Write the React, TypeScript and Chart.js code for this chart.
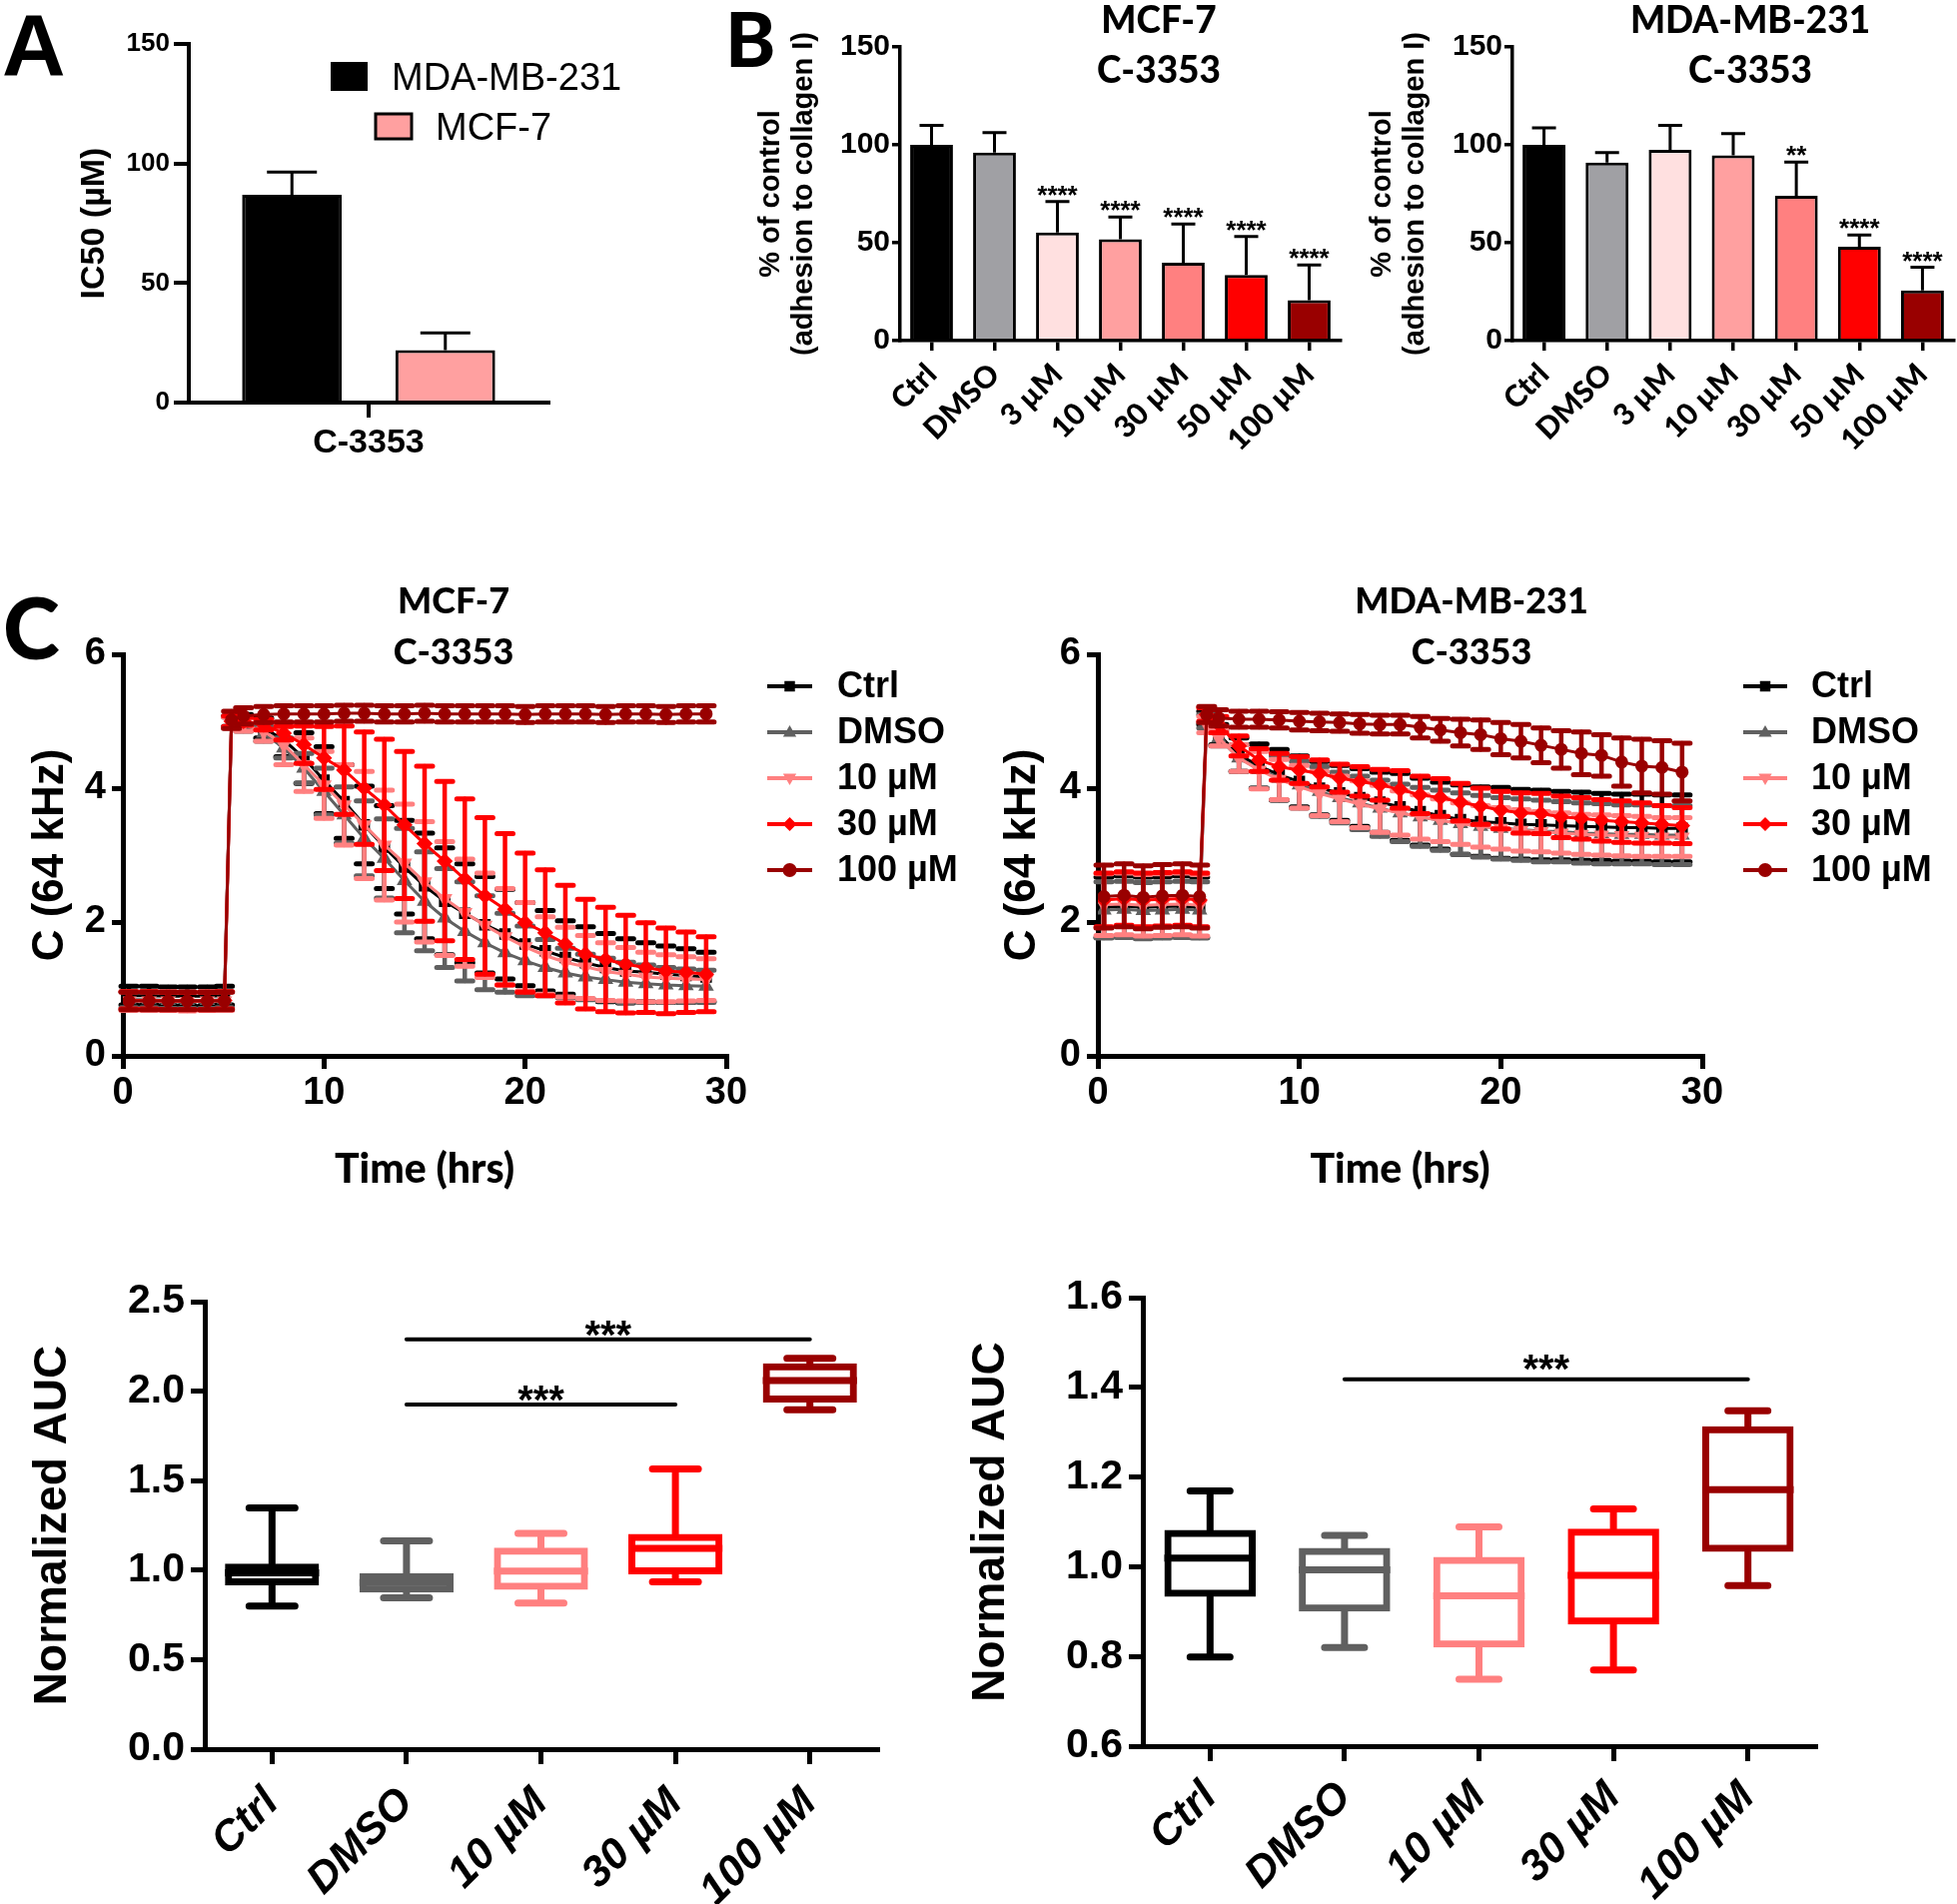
import React, { useEffect, useRef } from "react";
import { Chart, registerables } from "chart.js";

Chart.register(...registerables);

const ARIAL = '"Liberation Sans", Arial, Helvetica, sans-serif';
const CAL = 'Lato, "Open Sans", "Noto Sans", sans-serif';

// ---------------- Panel A ----------------
const aCategories = ["C-3353"];
const aSeriesNames = ["MDA-MB-231", "MCF-7"];
const aMeans = [86.9, 21.9];
const aSDs = [9.5, 7.2];
const aColors = ["#000000", "#FFA0A0"];

// ---------------- Panel B ----------------
const bCategories = ["Ctrl", "DMSO", "3 µM", "10 µM", "30 µM", "50 µM", "100 µM"];
const bColors = ["#000000", "#A0A0A4", "#FFE0E0", "#FFA0A0", "#FF8080", "#FF0000", "#990000"];
const bMcfMeans = [100, 96, 55.2, 51.8, 39.8, 33.5, 20.6];
const bMcfSDs = [10, 10.2, 15.8, 11.4, 19.8, 19.7, 18.1];
const bMcfSig = ["", "", "****", "****", "****", "****", "****"];
const bMdaMeans = [100, 90.9, 97.5, 94.6, 74, 48, 25.7];
const bMdaSDs = [8.7, 5.1, 12.5, 11.2, 17.2, 5.9, 11.8];
const bMdaSig = ["", "", "", "", "**", "****", "****"];

// ---------------- Panel C (impedance time course) ----------------
const cTimes = [0.3, 1.3, 2.25, 3.2, 4.2, 5.05, 5.4, 6, 7, 8, 9, 10, 11, 12, 13, 14, 15, 16, 17, 18, 19, 20, 21, 22, 23, 24, 25, 26, 27, 28, 29];
const cSeriesNames = ["Ctrl", "DMSO", "10 µM", "30 µM", "100 µM"];
const cColors = ["#000000", "#606060", "#FF8080", "#FF0000", "#990000"];
const cMarkers = ["rect", "triangle", "triangle", "rectRot", "circle"];
const cMarkerRotation = [0, 0, 180, 0, 0];

const mcfCtrl = [0.90, 0.90, 0.89, 0.89, 0.89, 0.90, 5.00, 5.00, 4.90, 4.72, 4.45, 4.12, 3.80, 3.45, 3.12, 2.82, 2.54, 2.31, 2.13, 1.96, 1.82, 1.67, 1.57, 1.47, 1.39, 1.32, 1.27, 1.25, 1.22, 1.20, 1.18];
const mcfCtrlSD = [0.14, 0.14, 0.14, 0.14, 0.14, 0.14, 0.08, 0.10, 0.15, 0.25, 0.38, 0.50, 0.55, 0.58, 0.62, 0.70, 0.79, 0.80, 0.74, 0.72, 0.67, 0.62, 0.60, 0.55, 0.54, 0.51, 0.48, 0.44, 0.42, 0.40, 0.37];
const mcfDmso = [0.84, 0.84, 0.83, 0.83, 0.83, 0.84, 4.98, 4.95, 4.82, 4.60, 4.30, 3.95, 3.60, 3.25, 2.95, 2.62, 2.31, 2.06, 1.86, 1.69, 1.54, 1.42, 1.32, 1.24, 1.18, 1.14, 1.10, 1.08, 1.06, 1.05, 1.04];
const mcfDmsoSD = [0.12, 0.12, 0.12, 0.12, 0.12, 0.12, 0.08, 0.10, 0.12, 0.15, 0.22, 0.35, 0.42, 0.56, 0.59, 0.78, 0.74, 0.74, 0.74, 0.70, 0.59, 0.52, 0.42, 0.37, 0.34, 0.32, 0.30, 0.28, 0.26, 0.25, 0.24];
const mcf10 = [0.82, 0.82, 0.82, 0.81, 0.82, 0.82, 4.98, 4.95, 4.85, 4.65, 4.35, 4.05, 3.75, 3.45, 3.15, 2.88, 2.60, 2.35, 2.14, 1.95, 1.78, 1.63, 1.50, 1.40, 1.33, 1.26, 1.22, 1.18, 1.16, 1.15, 1.14];
const mcf10SD = [0.14, 0.14, 0.14, 0.14, 0.14, 0.14, 0.08, 0.10, 0.15, 0.30, 0.40, 0.50, 0.60, 0.80, 0.82, 0.88, 0.90, 0.85, 0.80, 0.78, 0.72, 0.66, 0.58, 0.52, 0.47, 0.43, 0.40, 0.37, 0.35, 0.33, 0.31];
const mcf30 = [0.83, 0.83, 0.82, 0.82, 0.82, 0.83, 5.00, 5.00, 4.95, 4.82, 4.65, 4.45, 4.27, 4.00, 3.75, 3.45, 3.17, 2.91, 2.64, 2.39, 2.19, 1.99, 1.84, 1.67, 1.52, 1.44, 1.37, 1.32, 1.27, 1.25, 1.22];
const mcf30SD = [0.13, 0.13, 0.13, 0.13, 0.13, 0.13, 0.08, 0.06, 0.08, 0.10, 0.28, 0.47, 0.66, 0.84, 0.98, 1.10, 1.16, 1.19, 1.20, 1.17, 1.13, 1.04, 0.94, 0.88, 0.82, 0.78, 0.73, 0.67, 0.64, 0.60, 0.56];
const mcf100 = [0.82, 0.82, 0.82, 0.82, 0.82, 0.82, 5.02, 5.08, 5.10, 5.11, 5.11, 5.11, 5.12, 5.12, 5.11, 5.11, 5.12, 5.11, 5.11, 5.11, 5.11, 5.10, 5.11, 5.11, 5.11, 5.10, 5.11, 5.11, 5.10, 5.11, 5.11];
const mcf100SD = [0.13, 0.13, 0.13, 0.13, 0.13, 0.13, 0.13, 0.12, 0.12, 0.12, 0.12, 0.12, 0.12, 0.12, 0.12, 0.12, 0.12, 0.12, 0.12, 0.12, 0.12, 0.12, 0.12, 0.12, 0.12, 0.12, 0.12, 0.12, 0.12, 0.12, 0.12];

const mdaCtrl = [2.22, 2.24, 2.22, 2.23, 2.24, 2.22, 5.05, 4.80, 4.50, 4.33, 4.20, 4.10, 4.00, 3.93, 3.86, 3.79, 3.72, 3.65, 3.59, 3.53, 3.50, 3.48, 3.46, 3.45, 3.44, 3.43, 3.42, 3.41, 3.41, 3.40, 3.40];
const mdaCtrlSD = [0.45, 0.45, 0.45, 0.45, 0.45, 0.45, 0.10, 0.15, 0.25, 0.33, 0.38, 0.38, 0.40, 0.41, 0.43, 0.45, 0.50, 0.50, 0.50, 0.52, 0.52, 0.53, 0.52, 0.52, 0.51, 0.51, 0.50, 0.50, 0.50, 0.50, 0.50];
const mdaDmso = [2.18, 2.19, 2.17, 2.18, 2.19, 2.18, 5.00, 4.75, 4.45, 4.28, 4.15, 4.05, 3.95, 3.86, 3.78, 3.70, 3.63, 3.57, 3.52, 3.47, 3.43, 3.40, 3.38, 3.36, 3.35, 3.33, 3.32, 3.31, 3.31, 3.30, 3.30];
const mdaDmsoSD = [0.42, 0.42, 0.42, 0.42, 0.42, 0.42, 0.10, 0.12, 0.20, 0.28, 0.33, 0.35, 0.37, 0.38, 0.40, 0.42, 0.43, 0.44, 0.45, 0.46, 0.46, 0.46, 0.46, 0.46, 0.45, 0.45, 0.45, 0.44, 0.44, 0.44, 0.44];
const mda10 = [2.26, 2.27, 2.25, 2.26, 2.27, 2.25, 4.95, 4.75, 4.45, 4.27, 4.13, 4.02, 3.92, 3.84, 3.76, 3.69, 3.63, 3.57, 3.52, 3.47, 3.43, 3.40, 3.37, 3.35, 3.33, 3.31, 3.30, 3.29, 3.28, 3.27, 3.27];
const mda10SD = [0.46, 0.46, 0.46, 0.46, 0.46, 0.46, 0.12, 0.12, 0.20, 0.28, 0.30, 0.32, 0.33, 0.34, 0.35, 0.35, 0.33, 0.33, 0.32, 0.31, 0.31, 0.31, 0.31, 0.30, 0.30, 0.30, 0.30, 0.30, 0.30, 0.29, 0.29];
const mda30 = [2.33, 2.35, 2.33, 2.34, 2.35, 2.33, 5.10, 4.95, 4.63, 4.42, 4.32, 4.27, 4.22, 4.15, 4.10, 4.05, 3.98, 3.90, 3.86, 3.79, 3.73, 3.67, 3.63, 3.62, 3.57, 3.55, 3.52, 3.50, 3.48, 3.46, 3.44];
const mda30SD = [0.40, 0.40, 0.40, 0.40, 0.40, 0.40, 0.10, 0.12, 0.15, 0.17, 0.20, 0.20, 0.20, 0.21, 0.22, 0.23, 0.28, 0.28, 0.28, 0.28, 0.27, 0.28, 0.30, 0.30, 0.31, 0.31, 0.31, 0.31, 0.30, 0.28, 0.27];
const mda100 = [2.38, 2.40, 2.37, 2.39, 2.40, 2.38, 5.10, 5.05, 5.03, 5.03, 5.02, 5.00, 4.99, 4.98, 4.96, 4.95, 4.95, 4.91, 4.87, 4.83, 4.80, 4.74, 4.70, 4.64, 4.58, 4.52, 4.49, 4.39, 4.33, 4.31, 4.24];
const mda100SD = [0.47, 0.47, 0.47, 0.47, 0.47, 0.47, 0.12, 0.12, 0.12, 0.12, 0.12, 0.13, 0.13, 0.13, 0.14, 0.14, 0.14, 0.16, 0.17, 0.20, 0.22, 0.24, 0.25, 0.26, 0.28, 0.32, 0.31, 0.36, 0.40, 0.40, 0.43];

// ---------------- Normalized AUC box plots ----------------
const aucCategories = ["Ctrl", "DMSO", "10 µM", "30 µM", "100 µM"];
const aucColors = ["#000000", "#606060", "#FF8080", "#FF0000", "#990000"];
const mcfAucMin = [0.80, 0.846, 0.816, 0.935, 1.896];
const mcfAucQ1 = [0.915, 0.875, 0.89, 0.977, 1.937];
const mcfAucMed = [0.985, 0.93, 0.995, 1.121, 2.059];
const mcfAucQ3 = [1.036, 0.983, 1.126, 1.202, 2.155];
const mcfAucMax = [1.347, 1.163, 1.206, 1.565, 2.183];
const mcfSigFrom = [1, 1];
const mcfSigTo = [4, 3];
const mcfSigY = [2.29, 1.925];
const mcfSigText = ["***", "***"];

const mdaAucMin = [0.799, 0.82, 0.749, 0.77, 0.958];
const mdaAucQ1 = [0.933, 0.9, 0.82, 0.871, 1.033];
const mdaAucMed = [1.019, 0.993, 0.935, 0.981, 1.172];
const mdaAucQ3 = [1.082, 1.042, 1.022, 1.085, 1.313];
const mdaAucMax = [1.169, 1.07, 1.089, 1.129, 1.348];
const mdaSigFrom = [1];
const mdaSigTo = [4];
const mdaSigY = [1.418];
const mdaSigText = ["***"];

// ---------------- helpers ----------------
type Txt = { t: string; x: number; y: number; f: string; a?: CanvasTextAlign; b?: CanvasTextBaseline; c?: string };

const textPlugin = (items: Txt[]) => ({
  id: "texts",
  afterDraw(chart: any) {
    const ctx = chart.ctx;
    ctx.save();
    for (const it of items) {
      ctx.font = it.f;
      ctx.fillStyle = it.c || "#000";
      ctx.textAlign = it.a || "left";
      ctx.textBaseline = it.b || "alphabetic";
      ctx.fillText(it.t, it.x, it.y);
    }
    ctx.restore();
  },
});

function drawMarker(ctx: CanvasRenderingContext2D, style: string, x: number, y: number, r: number, rot: number) {
  ctx.beginPath();
  if (style === "circle") {
    ctx.arc(x, y, r, 0, Math.PI * 2);
  } else if (style === "rect") {
    const s = r * 0.75;
    ctx.rect(x - s, y - s, 2 * s, 2 * s);
  } else if (style === "rectRot") {
    ctx.moveTo(x, y - r);
    ctx.lineTo(x + r, y);
    ctx.lineTo(x, y + r);
    ctx.lineTo(x - r, y);
    ctx.closePath();
  } else {
    const d = rot === 180 ? -1 : 1;
    ctx.moveTo(x, y - d * r);
    ctx.lineTo(x + r * 0.95, y + d * r * 0.65);
    ctx.lineTo(x - r * 0.95, y + d * r * 0.65);
    ctx.closePath();
  }
  ctx.fill();
}

const barErrPlugin = (sds: number[][], capW: number, lw: number, sig?: string[], sigFont?: string, sigOff?: number) => ({
  id: "barErr",
  afterDatasetsDraw(chart: any) {
    const ctx = chart.ctx;
    const ys = chart.scales.y;
    chart.data.datasets.forEach((ds: any, di: number) => {
      const meta = chart.getDatasetMeta(di);
      meta.data.forEach((el: any, i: number) => {
        const v = ds.data[i];
        const top = ys.getPixelForValue(v + sds[di][i]);
        const y0 = ys.getPixelForValue(v);
        ctx.save();
        ctx.strokeStyle = "#000";
        ctx.lineWidth = lw;
        ctx.beginPath();
        ctx.moveTo(el.x, y0);
        ctx.lineTo(el.x, top);
        ctx.moveTo(el.x - capW / 2, top);
        ctx.lineTo(el.x + capW / 2, top);
        ctx.stroke();
        if (sig && sig[i]) {
          ctx.font = sigFont as string;
          ctx.fillStyle = "#000";
          ctx.textAlign = "center";
          ctx.textBaseline = "alphabetic";
          ctx.fillText(sig[i], el.x, top + (sigOff as number));
        }
        ctx.restore();
      });
    });
  },
});

const lineErrPlugin = (means: number[][], sds: number[][], colors: string[], capW: number, lw: number, capLw: number) => ({
  id: "lineErr",
  beforeDatasetDraw(chart: any, args: any) {
    const ctx = chart.ctx;
    const di = args.index;
    const ys = chart.scales.y;
    ctx.save();
    ctx.strokeStyle = colors[di];
    ctx.lineCap = "round";
    args.meta.data.forEach((el: any, i: number) => {
      const t = ys.getPixelForValue(means[di][i] + sds[di][i]);
      const b = ys.getPixelForValue(means[di][i] - sds[di][i]);
      ctx.lineWidth = lw;
      ctx.beginPath();
      ctx.moveTo(el.x, t);
      ctx.lineTo(el.x, b);
      ctx.stroke();
      ctx.lineWidth = capLw;
      ctx.beginPath();
      ctx.moveTo(el.x - capW / 2, t);
      ctx.lineTo(el.x + capW / 2, t);
      ctx.moveTo(el.x - capW / 2, b);
      ctx.lineTo(el.x + capW / 2, b);
      ctx.stroke();
    });
    ctx.restore();
  },
});

const lineLegendPlugin = (x1: number, x2: number, tx: number, y0: number, dy: number) => ({
  id: "lineLegend",
  afterDraw(chart: any) {
    const ctx = chart.ctx;
    ctx.save();
    cSeriesNames.forEach((name, i) => {
      const y = y0 + i * dy;
      ctx.strokeStyle = cColors[i];
      ctx.fillStyle = cColors[i];
      ctx.lineWidth = 4;
      ctx.beginPath();
      ctx.moveTo(x1, y);
      ctx.lineTo(x2, y);
      ctx.stroke();
      drawMarker(ctx, cMarkers[i], (x1 + x2) / 2, y, 7, cMarkerRotation[i]);
      ctx.fillStyle = "#000";
      ctx.font = `bold 36px ${ARIAL}`;
      ctx.textAlign = "left";
      ctx.textBaseline = "middle";
      ctx.fillText(name, tx, y + 1);
    });
    ctx.restore();
  },
});

const boxPlugin = (mins: number[], meds: number[], q1: number[], q3: number[], maxs: number[], colors: string[], capW: number, lw: number) => ({
  id: "boxWhisk",
  beforeDatasetsDraw(chart: any) {
    const ctx = chart.ctx;
    const ys = chart.scales.y;
    const meta = chart.getDatasetMeta(0);
    ctx.save();
    ctx.lineWidth = lw;
    ctx.lineCap = "round";
    meta.data.forEach((el: any, i: number) => {
      ctx.strokeStyle = colors[i];
      const yMax = ys.getPixelForValue(maxs[i]);
      const yMin = ys.getPixelForValue(mins[i]);
      const yQ3 = ys.getPixelForValue(q3[i]);
      const yQ1 = ys.getPixelForValue(q1[i]);
      ctx.beginPath();
      ctx.moveTo(el.x, yQ3);
      ctx.lineTo(el.x, yMax);
      ctx.moveTo(el.x - capW / 2, yMax);
      ctx.lineTo(el.x + capW / 2, yMax);
      ctx.moveTo(el.x, yQ1);
      ctx.lineTo(el.x, yMin);
      ctx.moveTo(el.x - capW / 2, yMin);
      ctx.lineTo(el.x + capW / 2, yMin);
      ctx.stroke();
    });
    ctx.restore();
  },
  afterDatasetsDraw(chart: any) {
    const ctx = chart.ctx;
    const ys = chart.scales.y;
    const meta = chart.getDatasetMeta(0);
    ctx.save();
    ctx.lineWidth = lw;
    meta.data.forEach((el: any, i: number) => {
      ctx.strokeStyle = colors[i];
      const y = ys.getPixelForValue(meds[i]);
      ctx.beginPath();
      ctx.moveTo(el.x - el.width / 2, y);
      ctx.lineTo(el.x + el.width / 2, y);
      ctx.stroke();
    });
    ctx.restore();
  },
});

const sigLinePlugin = (from: number[], to: number[], yv: number[], text: string[], font: string, off: number) => ({
  id: "sigLines",
  afterDatasetsDraw(chart: any) {
    const ctx = chart.ctx;
    const xs = chart.scales.x;
    const ys = chart.scales.y;
    ctx.save();
    ctx.strokeStyle = "#000";
    ctx.lineWidth = 4;
    ctx.lineCap = "round";
    from.forEach((f, i) => {
      const x1 = xs.getPixelForValue(f);
      const x2 = xs.getPixelForValue(to[i]);
      const y = ys.getPixelForValue(yv[i]);
      ctx.beginPath();
      ctx.moveTo(x1, y);
      ctx.lineTo(x2, y);
      ctx.stroke();
      ctx.font = font;
      ctx.fillStyle = "#000";
      ctx.textAlign = "center";
      ctx.textBaseline = "alphabetic";
      ctx.fillText(text[i], (x1 + x2) / 2, y + off);
    });
    ctx.restore();
  },
});

function yAxis(p: any) {
  const o: any = {
    type: "linear",
    position: "left",
    min: p.min,
    max: p.max,
    border: { display: true, color: "#000", width: p.lw },
    grid: { display: true, drawOnChartArea: false, drawTicks: true, tickLength: p.tl, color: "#000", lineWidth: p.lw, tickWidth: p.lw },
    ticks: { stepSize: p.step, color: "#000", font: p.font, padding: p.pad, autoSkip: false },
    title: { display: true, text: p.title, color: "#000", font: p.titleFont, padding: { top: p.titlePad, bottom: 0 } },
    afterFit: (s: any) => {
      s.width = p.width;
    },
  };
  if (p.fmt) o.ticks.callback = p.fmt;
  return o;
}

function catAxis(p: any) {
  return {
    type: "category",
    offset: true,
    border: { display: true, color: "#000", width: p.lw },
    grid: { display: true, drawOnChartArea: false, offset: false, drawTicks: true, tickLength: p.tl, color: "#000", lineWidth: p.lw, tickWidth: p.lw },
    ticks: { autoSkip: false, minRotation: p.rot, maxRotation: p.rot, color: "#000", font: p.font, padding: p.pad },
    afterFit: (s: any) => {
      s.height = p.height;
    },
  };
}

const baseOpts = (padding: any) => ({
  animation: false,
  responsive: false,
  maintainAspectRatio: false,
  layout: { padding },
  plugins: { legend: { display: false }, tooltip: { enabled: false }, title: { display: false } },
});

// ---------------- chart builders ----------------
function buildA(): any {
  return {
    type: "bar",
    data: {
      labels: aCategories,
      datasets: aSeriesNames.map((name, i) => ({
        label: name,
        data: [aMeans[i]],
        backgroundColor: aColors[i],
        borderColor: "#000",
        borderWidth: 3,
        categoryPercentage: 0.853,
        barPercentage: 0.65,
      })),
    },
    options: {
      ...baseOpts({ left: 0, top: 44, right: 151, bottom: 0 }),
      scales: {
        x: catAxis({ lw: 4, tl: 15, rot: 0, pad: 5, height: 77, font: { family: ARIAL, size: 34, weight: "bold" } }),
        y: yAxis({
          min: 0, max: 150, step: 50, lw: 4, tl: 15, pad: 4, width: 189,
          font: { family: ARIAL, size: 26, weight: "bold" },
          title: "IC50 (µM)", titleFont: { family: ARIAL, size: 34, weight: "bold", lineHeight: "40px" }, titlePad: 75,
        }),
      },
    },
    plugins: [
      barErrPlugin([[aSDs[0]], [aSDs[1]]], 50, 3),
      {
        id: "aLegend",
        afterDraw(chart: any) {
          const ctx = chart.ctx;
          ctx.save();
          ctx.fillStyle = aColors[0];
          ctx.fillRect(331, 62, 37, 29);
          ctx.fillStyle = aColors[1];
          ctx.fillRect(376, 114, 36, 25);
          ctx.strokeStyle = "#000";
          ctx.lineWidth = 3;
          ctx.strokeRect(376, 114, 36, 25);
          ctx.fillStyle = "#000";
          ctx.font = `38px ${ARIAL}`;
          ctx.textBaseline = "alphabetic";
          ctx.fillText(aSeriesNames[0], 392, 90);
          ctx.fillText(aSeriesNames[1], 436, 140);
          ctx.restore();
        },
      },
      textPlugin([{ t: "A", x: 2, y: 75, f: `bold 88px ${ARIAL}` }]),
    ],
  };
}

function buildB(means: number[], sds: number[], sig: string[], yWidth: number, titlePad: number, texts: Txt[]): any {
  return {
    type: "bar",
    data: {
      labels: bCategories,
      datasets: [
        {
          label: "adhesion",
          data: means,
          backgroundColor: bColors,
          borderColor: "#000",
          borderWidth: 3,
          categoryPercentage: 1,
          barPercentage: 0.68,
        },
      ],
    },
    options: {
      ...baseOpts({ left: 0, top: 47, right: 3, bottom: 0 }),
      scales: {
        x: catAxis({ lw: 3.5, tl: 10, rot: 45, pad: 6, height: 139, font: { family: CAL, size: 30, weight: "900" } }),
        y: yAxis({
          min: 0, max: 150, step: 50, lw: 3.5, tl: 8, pad: 2, width: yWidth,
          font: { family: ARIAL, size: 30, weight: "bold" },
          title: ["% of control", "(adhesion to collagen I)"],
          titleFont: { family: ARIAL, size: 29, weight: "bold", lineHeight: "33px" },
          titlePad,
        }),
      },
    },
    plugins: [barErrPlugin([sds], 24, 3, sig, `bold 26px ${ARIAL}`, 2), textPlugin(texts)],
  };
}

function buildC(means: number[][], sds: number[][], yWidth: number, padRight: number, titlePad: number, legend: number[], texts: Txt[]): any {
  return {
    type: "line",
    data: {
      datasets: cSeriesNames.map((name, i) => ({
        label: name,
        data: cTimes.map((t, k) => ({ x: t, y: means[i][k] })),
        borderColor: cColors[i],
        backgroundColor: cColors[i],
        pointBackgroundColor: cColors[i],
        pointBorderColor: cColors[i],
        borderWidth: 3,
        pointStyle: cMarkers[i],
        pointRotation: cMarkerRotation[i],
        pointRadius: cMarkers[i] === "circle" ? 5 : 6,
        tension: 0,
        order: 4 - i,
      })),
    },
    options: {
      ...baseOpts({ left: 0, top: 95, right: padRight, bottom: 0 }),
      scales: {
        x: {
          type: "linear",
          position: "bottom",
          min: 0,
          max: 30,
          border: { display: true, color: "#000", width: 5 },
          grid: { display: true, drawOnChartArea: false, drawTicks: true, tickLength: 13, color: "#000", lineWidth: 5, tickWidth: 5 },
          ticks: { stepSize: 10, color: "#000", font: { family: ARIAL, size: 38, weight: "bold" }, padding: 2 },
          title: { display: true, text: "Time (hrs)", color: "#000", font: { family: CAL, size: 41, weight: "900", lineHeight: "46px" }, padding: { top: 0, bottom: 6 } },
          afterFit: (s: any) => {
            s.height = 143;
          },
        },
        y: yAxis({
          min: 0, max: 6, step: 2, lw: 5, tl: 11, pad: 6, width: yWidth,
          font: { family: ARIAL, size: 38, weight: "bold" },
          title: "C (64 kHz)", titleFont: { family: ARIAL, size: 44, weight: "bold", lineHeight: "52px" }, titlePad,
        }),
      },
    },
    plugins: [lineErrPlugin(means, sds, cColors, 16, 4.5, 5), lineLegendPlugin(legend[0], legend[1], legend[2], 127, 46), textPlugin(texts)],
  };
}

function buildBox(
  q1: number[], q3: number[], mins: number[], meds: number[], maxs: number[],
  yMin: number, yMax: number, step: number, padding: any, yWidth: number, xHeight: number, titlePad: number, xPad: number,
  barPct: number, capW: number, sig: any
): any {
  return {
    type: "bar",
    data: {
      labels: aucCategories,
      datasets: [
        {
          label: "Normalized AUC",
          data: q1.map((v, i) => [v, q3[i]]),
          backgroundColor: "rgba(0,0,0,0)",
          borderColor: aucColors,
          borderWidth: 7,
          borderSkipped: false,
          categoryPercentage: 1,
          barPercentage: barPct,
        },
      ],
    },
    options: {
      ...baseOpts(padding),
      scales: {
        x: catAxis({ lw: 5, tl: 15, rot: 45, pad: xPad, height: xHeight, font: { family: ARIAL, size: 43, weight: "bold", style: "italic" } }),
        y: yAxis({
          min: yMin, max: yMax, step, lw: 5, tl: 14, pad: 6, width: yWidth,
          font: { family: ARIAL, size: 41, weight: "bold" },
          title: "Normalized AUC", titleFont: { family: ARIAL, size: 46, weight: "bold", lineHeight: "54px" }, titlePad,
          fmt: (v: any) => Number(v).toFixed(1),
        }),
      },
    },
    plugins: [boxPlugin(mins, meds, q1, q3, maxs, aucColors, capW, 7), sigLinePlugin(sig.from, sig.to, sig.y, sig.text, `bold 40px ${ARIAL}`, sig.off)],
  };
}

// ---------------- React ----------------
function ChartCanvas({ x, y, w, h, build }: { x: number; y: number; w: number; h: number; build: () => any }) {
  const ref = useRef<HTMLCanvasElement | null>(null);
  useEffect(() => {
    const chart = new Chart(ref.current as HTMLCanvasElement, build());
    return () => chart.destroy();
  }, [build]);
  return <canvas ref={ref} width={w} height={h} style={{ position: "absolute", left: x, top: y, width: w, height: h }} />;
}

const TITLE_B = `900 37px ${CAL}`;
const TITLE_C = `900 36px ${CAL}`;

const makeA = () => buildA();
const makeB1 = () =>
  buildB(bMcfMeans, bMcfSDs, bMcfSig, 201, 55, [
    { t: "B", x: 26, y: 67, f: `900 76px ${CAL}` },
    { t: "MCF-7", x: 460, y: 33, f: TITLE_B, a: "center" },
    { t: "C-3353", x: 460, y: 83, f: TITLE_B, a: "center" },
  ]);
const makeB2 = () =>
  buildB(bMdaMeans, bMdaSDs, bMdaSig, 169, 22, [
    { t: "MDA-MB-231", x: 407, y: 33, f: TITLE_B, a: "center" },
    { t: "C-3353", x: 407, y: 83, f: TITLE_B, a: "center" },
  ]);
const makeC1 = () =>
  buildC([mcfCtrl, mcfDmso, mcf10, mcf30, mcf100], [mcfCtrlSD, mcfDmsoSD, mcf10SD, mcf30SD, mcf100SD], 123, 253, 25, [768, 813, 838], [
    { t: "C", x: 3, y: 100, f: `900 86px ${CAL}` },
    { t: "MCF-7", x: 454, y: 54, f: TITLE_C, a: "center" },
    { t: "C-3353", x: 454, y: 105, f: TITLE_C, a: "center" },
  ]);
const makeC2 = () =>
  buildC([mdaCtrl, mdaDmso, mda10, mda30, mda100], [mdaCtrlSD, mdaDmsoSD, mda10SD, mda30SD, mda100SD], 119, 255, 18, [765, 809, 833], [
    { t: "MDA-MB-231", x: 493, y: 54, f: TITLE_C, a: "center" },
    { t: "C-3353", x: 493, y: 105, f: TITLE_C, a: "center" },
  ]);
const makeD1 = () =>
  buildBox(mcfAucQ1, mcfAucQ3, mcfAucMin, mcfAucMed, mcfAucMax, 0, 2.5, 0.5, { left: 0, top: 43, right: 82, bottom: 0 }, 205, 155, 26, 14, 0.7, 46, {
    from: mcfSigFrom, to: mcfSigTo, y: mcfSigY, text: mcfSigText, off: 9,
  });
const makeD2 = () =>
  buildBox(mdaAucQ1, mdaAucQ3, mdaAucMin, mdaAucMed, mdaAucMax, 0.6, 1.6, 0.2, { left: 0, top: 39, right: 142, bottom: 0 }, 184, 158, 5, 11, 0.68, 40, {
    from: mdaSigFrom, to: mdaSigTo, y: mdaSigY, text: mdaSigText, off: 3,
  });

export default function App() {
  return (
    <div style={{ position: "absolute", left: 0, top: 0, width: 1959, height: 1906, background: "#fff", overflow: "hidden" }}>
      <ChartCanvas x={0} y={0} w={700} h={480} build={makeA} />
      <ChartCanvas x={700} y={0} w={645} h={480} build={makeB1} />
      <ChartCanvas x={1345} y={0} w={614} h={480} build={makeB2} />
      <ChartCanvas x={0} y={560} w={980} h={640} build={makeC1} />
      <ChartCanvas x={980} y={560} w={979} h={640} build={makeC2} />
      <ChartCanvas x={0} y={1260} w={960} h={646} build={makeD1} />
      <ChartCanvas x={960} y={1260} w={999} h={646} build={makeD2} />
    </div>
  );
}
